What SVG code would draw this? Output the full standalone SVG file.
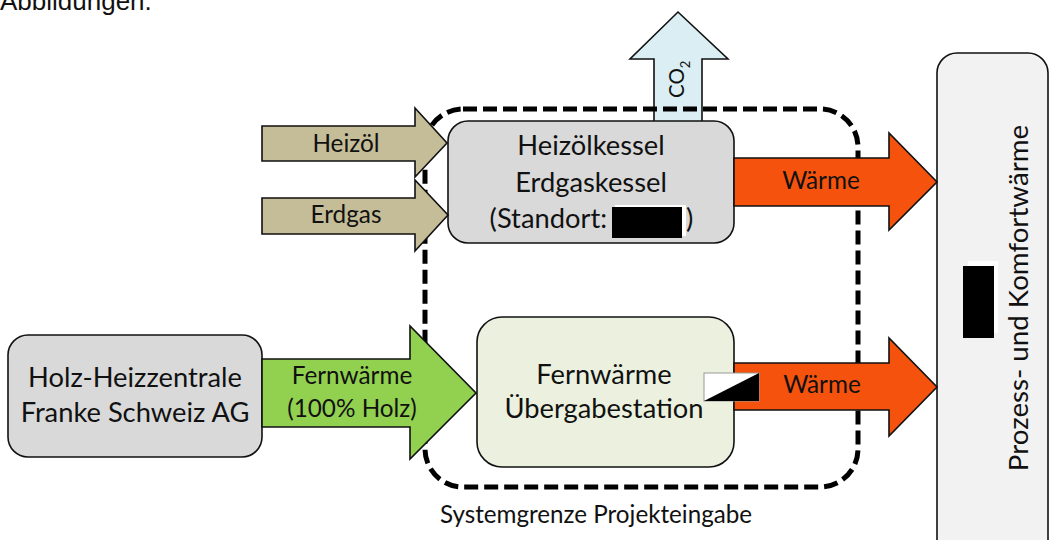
<svg xmlns="http://www.w3.org/2000/svg" width="1050" height="540" viewBox="0 0 1050 540">
<style>
  .t { font-family: Lato, "Open Sans", "Liberation Sans", sans-serif; fill: #111; }
  .big { font-size: 27.3px; }
  .mid { font-size: 24.3px; }
  .box { stroke: #111; stroke-width: 1.6; }
  .arr { stroke: #111; stroke-width: 1.6; stroke-linejoin: miter; }
</style>
<rect width="1050" height="540" fill="#ffffff"/>
<text x="0" y="10" font-family="'Liberation Sans', Arial, sans-serif" font-size="26" fill="#111">Abbildungen.</text>

<g id="co2">
  <path class="arr" d="M654,125 V59 H630 L678,12 L728,59 H702 V125 Z" fill="#daeef3"/>
  <text class="t" transform="translate(684,98) rotate(-90)" font-size="20.5">CO<tspan font-size="13" dy="6">2</tspan></text>
</g>

<g id="systemgrenze">
  <rect x="425" y="109" width="433" height="378" rx="38" fill="none" stroke="#000" stroke-width="5" stroke-dasharray="14 6"/>
  <text class="t" font-size="24.2" x="596" y="523" text-anchor="middle">Systemgrenze Projekteingabe</text>
</g>

<g id="kessel">
  <rect class="box" x="448" y="121" width="286" height="122" rx="20" fill="#d9d9d9"/>
  <text class="t big" x="591" y="155" text-anchor="middle">Heizölkessel</text>
  <text class="t big" x="591" y="192" text-anchor="middle">Erdgaskessel</text>
  <text class="t big" x="607" y="228" text-anchor="end">(Standort:</text>
  <rect x="615" y="205" width="71" height="31" fill="#ffffff"/>
  <rect x="612" y="207" width="70" height="31" fill="#000000"/>
  <text class="t big" x="686" y="228">)</text>
</g>

<g id="uebergabestation">
  <rect class="box" x="477" y="317" width="257" height="150" rx="25" fill="#ebf1de"/>
  <text class="t big" x="604" y="384" text-anchor="middle">Fernwärme</text>
  <text class="t big" x="604" y="418" text-anchor="middle">Übergabestation</text>
</g>

<g id="holz">
  <rect class="box" x="8" y="335" width="254" height="122" rx="20" fill="#d9d9d9"/>
  <text class="t big" x="135" y="387" text-anchor="middle">Holz-Heizzentrale</text>
  <text class="t big" x="135" y="422" text-anchor="middle">Franke Schweiz AG</text>
</g>

<g id="verbraucher">
  <rect class="box" x="937" y="53" width="111" height="520" rx="20" fill="#f2f2f2"/>
  <text class="t" font-size="27.7" transform="translate(1028,298) rotate(-90)" text-anchor="middle">Prozess- und Komfortwärme</text>
  <rect x="968" y="261" width="30" height="72" fill="#ffffff"/>
  <rect x="963" y="266" width="31" height="72" fill="#000000"/>
</g>

<g id="connectors">
  <g id="heizoel">
    <path class="arr" d="M262,126 H415 V108 L447,143 L415,177 V161 H262 Z" fill="#c4bd97"/>
    <text class="t mid" x="346" y="152" text-anchor="middle">Heizöl</text>
  </g>
  <g id="erdgas">
    <path class="arr" d="M262,198 H415 V180 L448,215 L415,251 V234 H262 Z" fill="#c4bd97"/>
    <text class="t mid" x="346" y="223" text-anchor="middle">Erdgas</text>
  </g>
  <g id="waerme1">
    <path class="arr" d="M734,158 H889 V133 L937,182 L889,230 V206 H734 Z" fill="#f5530d"/>
    <text class="t mid" x="821" y="189" text-anchor="middle">Wärme</text>
  </g>
  <g id="waerme2">
    <path class="arr" d="M734,363 H889 V338 L937,387 L889,436 V410 H734 Z" fill="#f5530d"/>
    <text class="t mid" x="822" y="393" text-anchor="middle">Wärme</text>
  </g>
  <g id="fernwaerme">
    <path class="arr" d="M262,359 H410 V326 L476,393 L410,459 V427 H262 Z" fill="#92d050"/>
    <text class="t mid" x="352" y="384" text-anchor="middle">Fernwärme</text>
    <text class="t mid" x="352" y="417" text-anchor="middle">(100% Holz)</text>
  </g>
</g>

<g id="symbol">
  <rect x="704" y="373" width="55" height="28" fill="#ffffff" stroke="#999" stroke-width="1"/>
  <path d="M704,401 L759,373 V401 Z" fill="#000000"/>
</g>
</svg>
